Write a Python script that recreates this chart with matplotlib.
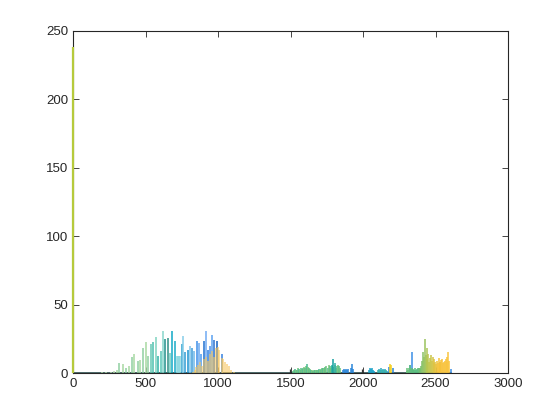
import matplotlib
matplotlib.use("Agg")
import matplotlib.pyplot as plt
import numpy as np
from matplotlib.colors import LinearSegmentedColormap

# ---- data ----
main_x = [0]
main_h = [238]

pre_x = [200, 230, 260, 280]
pre_h = [0.6, 0.8, 1.0, 1.2]

green1_x = [301, 319, 343, 366, 384, 405, 423, 446, 462, 481, 501, 519]
green1_h = [2.2, 7, 6.3, 3.9, 5.4, 11.4, 13.6, 8.8, 9.5, 18.5, 22.4, 12.4]

teal1_x = [536, 554, 572, 589, 605, 618, 637, 655, 669]
teal1_h = [21.2, 22.4, 26, 12.4, 16.3, 30.7, 24.6, 25.3, 14.4]

cyan1_x = [685, 703, 717, 724, 731, 738, 750, 761, 775, 791, 807, 823, 837]
cyan1_h = [30.7, 23.4, 12.4, 12.4, 12.4, 12.4, 21, 27, 15, 17, 19.6, 18.5, 16]

blue1_x = [857, 869, 883, 903, 917, 929, 945, 960, 974, 991, 1025]
blue1_h = [23.4, 22, 13.6, 23.4, 30.7, 17, 20, 28, 24, 23.4, 14]

yellow1_x = [830, 843, 850, 863, 876, 890, 903, 916, 930, 943, 957, 970,
             984, 997, 1010, 1024, 1037, 1051, 1064, 1078, 1092, 1108]
yellow1_h = [1, 2, 4.4, 6, 8, 5, 10, 12, 9, 14, 16, 12,
             18, 19, 17, 11, 10, 8, 6.5, 5, 2.5, 1]

green2_x = [1517, 1524, 1531, 1538, 1545, 1552, 1559, 1566, 1573, 1580,
            1587, 1594, 1601, 1608, 1615, 1622, 1629, 1636, 1643, 1650,
            1657, 1664, 1671, 1678, 1685, 1692, 1699, 1706, 1713, 1720,
            1727, 1734, 1741, 1748, 1755, 1762, 1769, 1776, 1783, 1790,
            1804, 1811, 1818, 1825, 1832, 1839]
green2_h = [1.5, 2, 3, 2.5, 2, 3.5, 3, 2.5, 4, 3,
            3.5, 4.5, 4, 5, 6.3, 4.5, 3.5, 3, 2.5, 2,
            1.5, 2, 2.5, 2, 2, 2.5, 3, 2.5, 3, 3.5,
            4, 3.5, 4.5, 5, 4, 5.5, 5, 4, 5, 4.5,
            5.5, 4, 5, 6, 5, 4]

teal2_x = [1785, 1795, 1805]
teal2_h = [6, 10.2, 7]

blue2_x = [1862, 1869, 1876, 1883, 1890, 1897, 1915, 1922, 1929, 2176, 2205]
blue2_h = [2.5, 3, 2, 3, 2.5, 3, 4, 6.3, 3, 4.5, 4]

dark_x = [1497, 1995]
dark_h = [3, 3]

cyan2_x = [2040, 2047, 2054, 2061, 2068, 2075]
cyan2_h = [2, 3.5, 3, 3.5, 2.5, 1.5]

mix2_x = [2100, 2107, 2114, 2121, 2128, 2135, 2142, 2149, 2156, 2163]
mix2_h = [2, 3, 2.5, 3.5, 2.5, 3, 2, 3, 2.5, 1.5]

yellow2_x = [2183, 2190]
yellow2_h = [6.3, 5.5]

grad3_x = [2300, 2306, 2312, 2318, 2324, 2330, 2336, 2342, 2348, 2354,
           2360, 2366, 2372, 2378, 2384, 2390, 2396, 2402, 2408, 2414,
           2420, 2426, 2432, 2438, 2444, 2450, 2456, 2462, 2468, 2474,
           2480, 2486, 2492, 2498, 2504, 2510, 2516, 2522, 2528, 2534,
           2540, 2546, 2552, 2558, 2564, 2570, 2576, 2582, 2588, 2594]
grad3_h = [1.5, 3.4, 2.5, 4, 6, 3, 3.5, 2.5, 3, 2,
           3.5, 2.5, 3, 4, 3.5, 3, 4, 5, 9, 15.6,
           12, 24.6, 13, 18, 10, 14, 8, 11, 13, 9,
           12, 7, 10, 8, 6.5, 9, 7, 11, 8, 7,
           9.5, 10, 7, 8, 9, 10, 8, 12, 15.6, 9]

blue3_x = [2326, 2336, 2530, 2605]
blue3_h = [6, 15.1, 8, 3]

xticks = [0, 500, 1000, 1500, 2000, 2500, 3000]
yticks = [0, 50, 100, 150, 200, 250]

# ---- plotting ----
plt.rcParams['font.family'] = ['Liberation Sans', 'DejaVu Sans']
fig = plt.figure(figsize=(5.6, 4.2), dpi=100)
ax = fig.add_axes([0.1304, 0.1119, 0.7768, 0.8143])

lw = 1.1
ax.plot([0, 2610], [0, 0], color='#2f5050', lw=1.2, zorder=1)

def stems(x, h, color, alpha=1.0, lw=lw, z=2, clip=True):
    ax.vlines(x, 0, h, colors=color, lw=lw, alpha=alpha, zorder=z, clip_on=clip)

stems(pre_x, pre_h, '#b7dcae')
stems(green1_x, green1_h, ['#a8d9a2', '#8fd0a0'] * 6)
stems(teal1_x, teal1_h, ['#66c9b4', '#4cc0ae', '#7ed3c0', '#2fb3a5', '#56c6b7', '#88d6cc', '#1f8f8a', '#2f8f85', '#6ccdbf'])
stems(cyan1_x, cyan1_h, ['#10a8c6', '#19a9c6', '#8ad7e0', '#8ad7e0', '#8ad7e0', '#8ad7e0',
                         '#2aa0d0', '#86cde8', '#2d9bd2', '#1a93d0', '#7fc3ea', '#3c9bd8', '#6fb8ea'])
stems(blue1_x, blue1_h, ['#3d8ee8', '#6aa8f0', '#4a9af0', '#1f6fd0', '#6faaf2', '#2f7fe0',
                         '#4a90e8', '#5aa0f0', '#2a70d0', '#1560c0', '#3380e0'])
stems(yellow1_x, yellow1_h, '#f8c55a', alpha=0.75, z=3)

stems(green2_x, green2_h, ['#55bd86', '#6cc27a', '#4ab990', '#7cc67a'] * 11 + ['#55bd86', '#6cc27a'])
stems(teal2_x, teal2_h, ['#2eb3a0', '#13a0a0', '#30b0a5'])
stems(blue2_x, blue2_h, '#2a85d8')
stems(dark_x, dark_h, '#333333', lw=0.9)
stems(cyan2_x, cyan2_h, '#1aa2c8')
stems(mix2_x, mix2_h, ['#3bb5a0', '#2aa8c0'] * 5)
stems(yellow2_x, yellow2_h, '#f5d020')

cmap = LinearSegmentedColormap.from_list('gy', ['#6cc27a', '#54bc7e', '#b8c650', '#f6c23a', '#f9c540'])
g = np.asarray(grad3_x, dtype=float)
cols = cmap((g - g.min()) / (g.max() - g.min()))
stems(grad3_x, grad3_h, cols, alpha=0.85, lw=1.3)
stems(blue3_x, blue3_h, '#3a8ee6', z=1.5)

stems(main_x, main_h, '#b6ca3c', lw=1.6, z=4, clip=False)

ax.set_xlim(0, 3000)
ax.set_ylim(0, 250)
ax.set_xticks(xticks)
ax.set_yticks(yticks)
ax.tick_params(direction='in', length=4, width=0.6, labelsize=9.5, top=True, right=True,
               colors='#262626', labelcolor='#262626')
for s in ax.spines.values():
    s.set_linewidth(0.8)
    s.set_color('#262626')

fig.savefig('out.png', dpi=100)
